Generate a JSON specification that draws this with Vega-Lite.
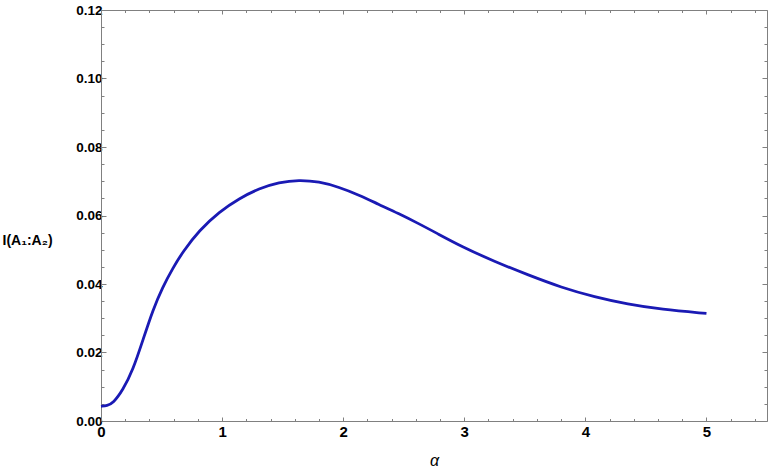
{
  "$schema": "https://vega.github.io/schema/vega-lite/v6.json",
  "width": 666,
  "height": 411,
  "autosize": {"type": "none"},
  "padding": {"left": 101, "top": 10, "right": 1, "bottom": 48},
  "background": "white",
  "config": {
    "view": {"stroke": null},
    "axis": {
      "domainColor": "#808080",
      "tickColor": "#808080",
      "labelFont": "Liberation Sans",
      "labelFontWeight": "bold",
      "labelFontSize": 14,
      "labelColor": "#000000",
      "grid": false
    }
  },
  "data": {
    "values": [
      {"a": 0, "v": 0.0043},
      {"a": 0.05, "v": 0.0045},
      {"a": 0.1, "v": 0.0052},
      {"a": 0.18, "v": 0.009},
      {"a": 0.263, "v": 0.0148},
      {"a": 0.346, "v": 0.0236},
      {"a": 0.428, "v": 0.0324},
      {"a": 0.51, "v": 0.0392},
      {"a": 0.593, "v": 0.0446},
      {"a": 0.675, "v": 0.0494},
      {"a": 0.812, "v": 0.0557},
      {"a": 0.977, "v": 0.0611},
      {"a": 1.142, "v": 0.065},
      {"a": 1.306, "v": 0.0679},
      {"a": 1.47, "v": 0.0697},
      {"a": 1.635, "v": 0.0704},
      {"a": 1.8, "v": 0.0699},
      {"a": 1.965, "v": 0.0683},
      {"a": 2.13, "v": 0.066},
      {"a": 2.29, "v": 0.0633},
      {"a": 2.456, "v": 0.0606},
      {"a": 2.62, "v": 0.0577},
      {"a": 2.774, "v": 0.0548},
      {"a": 2.98, "v": 0.0509},
      {"a": 3.254, "v": 0.0465},
      {"a": 3.53, "v": 0.0426},
      {"a": 3.8, "v": 0.039},
      {"a": 4.077, "v": 0.0362},
      {"a": 4.35, "v": 0.0341},
      {"a": 4.625, "v": 0.0326},
      {"a": 5.0, "v": 0.0314}
    ]
  },
  "resolve": {"axis": {"x": "independent", "y": "independent"}},
  "layer": [
    {
      "mark": {"type": "line", "color": "#1a1ab4", "strokeWidth": 2.8, "interpolate": "basis"},
      "encoding": {
        "x": {
          "field": "a", "type": "quantitative",
          "scale": {"domain": [0, 5.5], "nice": false, "zero": false},
          "axis": {
            "orient": "bottom",
            "values": [0,0.2,0.4,0.6,0.8,1,1.2,1.4,1.6,1.8,2,2.2,2.4,2.6,2.8,3,3.2,3.4,3.6,3.8,4,4.2,4.4,4.6,4.8,5,5.2,5.4],
            "labelExpr": "abs(datum.value - round(datum.value)) < 1e-6 ? format(datum.value, 'd') : ''",
            "tickSize": {"condition": {"test": "abs(datum.value - round(datum.value)) < 1e-6", "value": -4}, "value": -2.5},
            "labelPadding": 7,
            "labelFontSize": 15,
            "labelFlush": false,
            "labelOverlap": false,
            "title": "α",
            "titleFont": "Liberation Sans",
            "titleFontStyle": "italic",
            "titleFontWeight": "normal",
            "titleFontSize": 16,
            "titleColor": "#000000",
            "titleBaseline": "alphabetic",
            "titleY": 44
          }
        },
        "y": {
          "field": "v", "type": "quantitative",
          "scale": {"domain": [0, 0.12], "nice": false},
          "axis": {
            "orient": "left",
            "values": [0,0.005,0.01,0.015,0.02,0.025,0.03,0.035,0.04,0.045,0.05,0.055,0.06,0.065,0.07,0.075,0.08,0.085,0.09,0.095,0.1,0.105,0.11,0.115,0.12],
            "labelExpr": "abs(datum.value*50 - round(datum.value*50)) < 1e-6 ? format(datum.value, '.2f') : ''",
            "tickSize": {"condition": {"test": "abs(datum.value*50 - round(datum.value*50)) < 1e-6", "value": -5}, "value": -3},
            "labelPadding": 4,
            "labelFontSize": 13.5,
            "labelOverlap": false,
            "labelFlush": false,
            "title": "I(A₁:A₂)",
            "titleFont": "Liberation Sans",
            "titleFontWeight": "bold",
            "titleFontSize": 14,
            "titleColor": "#000000",
            "titleAngle": 0,
            "titleAlign": "left",
            "titleBaseline": "middle",
            "titleX": -99,
            "titleY": 230
          }
        }
      }
    },
    {
      "mark": {"type": "line", "strokeOpacity": 0},
      "encoding": {
        "x": {
          "field": "a", "type": "quantitative",
          "axis": {
            "orient": "top",
            "values": [0,0.2,0.4,0.6,0.8,1,1.2,1.4,1.6,1.8,2,2.2,2.4,2.6,2.8,3,3.2,3.4,3.6,3.8,4,4.2,4.4,4.6,4.8,5,5.2,5.4],
            "labels": false,
            "tickSize": {"condition": {"test": "abs(datum.value - round(datum.value)) < 1e-6", "value": -4}, "value": -2.5},
            "title": null
          }
        },
        "y": {
          "field": "v", "type": "quantitative",
          "axis": {
            "orient": "right",
            "values": [0,0.005,0.01,0.015,0.02,0.025,0.03,0.035,0.04,0.045,0.05,0.055,0.06,0.065,0.07,0.075,0.08,0.085,0.09,0.095,0.1,0.105,0.11,0.115,0.12],
            "labels": false,
            "tickSize": {"condition": {"test": "abs(datum.value*50 - round(datum.value*50)) < 1e-6", "value": -5}, "value": -3},
            "title": null
          }
        }
      }
    }
  ]
}
